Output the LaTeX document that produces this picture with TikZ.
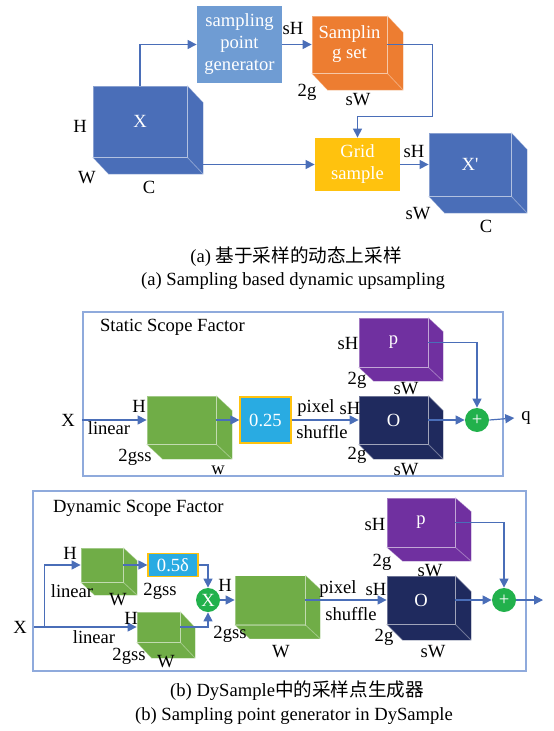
\documentclass[tikz,border=0pt]{standalone}
\usepackage{fontspec}
\setmainfont{Liberation Serif}
\newfontfamily\cjk{Noto Sans CJK SC}
\usetikzlibrary{arrows.meta, calc}
\definecolor{xblue}{HTML}{4A6EB8}
\definecolor{genblue}{HTML}{6F9CD3}
\definecolor{setorange}{HTML}{ED7D31}
\definecolor{gridgold}{HTML}{FFC20E}
\definecolor{leafgreen}{HTML}{70AD47}
\definecolor{sky}{HTML}{29ABE2}
\definecolor{deepnavy}{HTML}{1F2A5E}
\definecolor{plum}{HTML}{7030A0}
\definecolor{dotgreen}{HTML}{22B14C}
\colorlet{linkblue}{xblue}
\definecolor{frameblue}{HTML}{8FAADC}

% side and bottom faces behind a front face node
\newcommand{\extrude}[4]{%
  \fill[#2] (#1.north east) -- ($(#1.north east)+(#3,#4)$) -- ($(#1.south east)+(#3,#4)$)
    -- ($(#1.south west)+(#3,#4)$) -- (#1.south west) -- (#1.south east) -- cycle;
  \draw[edge] (#1.north east) -- ($(#1.north east)+(#3,#4)$) -- ($(#1.south east)+(#3,#4)$)
    -- ($(#1.south west)+(#3,#4)$) -- (#1.south west);
  \draw[edge] (#1.north east) -- (#1.south east) -- (#1.south west);
  \draw[edge] (#1.south east) -- ($(#1.south east)+(#3,#4)$);
}

\begin{document}
\begin{tikzpicture}[x=0.5pt, y=-0.5pt, >={Triangle[length=4.5pt,width=4.5pt]},
    font=\fontsize{9.3}{11}\selectfont,
    edge/.style={draw=white, draw opacity=0.35, line width=0.4pt},
    block/.style={fill=#1, text=white, align=center, inner sep=0pt},
    cubeface/.style={block=#1, edge},
    link/.style={draw=linkblue, line width=0.6pt, ->},
    panel/.style={draw=frameblue, line width=0.6pt},
    dot/.style={circle, fill=dotgreen, text=white, minimum size=12pt, inner sep=0pt}]
  \useasboundingbox (0,0) rectangle (553,731);

  % (a) sampling based upsampling
  \node[cubeface=xblue, minimum width=47pt, minimum height=35.5pt] (xin) at (140,121.5) {X};
  \extrude{xin}{xblue}{16}{17}
  \node[block=genblue, minimum width=42.5pt, minimum height=38.5pt] (gen) at (239.5,44.5) {sampling\\point\\generator};
  \node[cubeface=setorange, minimum width=37.5pt, minimum height=28.5pt] (sset) at (349.5,44.5) {Samplin\\[-1pt]g set};
  \extrude{sset}{setorange}{16}{17}
  \node[block=gridgold, minimum width=42.5pt, minimum height=26.5pt] (grid) at (357.5,164.5) {Grid\\sample};
  \node[cubeface=xblue, minimum width=41pt, minimum height=31.5pt] (xout) at (470,164.5) {X\textquotesingle};
  \extrude{xout}{xblue}{16}{17}

  \draw[link] (xin.north) |- (gen.west);
  \draw[link] (gen.east) -- (sset.west);
  \draw[link] (sset.east) -- ++(45,0) |- ($(grid.north)+(0,-21)$) -- (grid.north);
  \path (xin.east) ++(16,0) coordinate (xinside);
  \draw[link] (xinside |- grid.west) -- (grid.west);
  \draw[link] (grid.east) -- (xout.west);

  \node (aH) at (80,126) {H};
  \node (aW) at (87,178) {W};
  \node (aC) at (149,187) {C};
  \node (asH) at (293,29) {sH};
  \node (a2g) at (307,92) {2g};
  \node (asW) at (358,100) {sW};
  \node (aoH) at (414,152) {sH};
  \node (aoW) at (418,214) {sW};
  \node (aoC) at (486,226) {C};

  \node (capa) at (296,257) {(a) {\cjk 基于采样的动态上采样}};
  \node (capaen) at (293,281) {(a) Sampling based dynamic upsampling};

  % (b) static scope factor
  \draw[panel] (83,312) rectangle (503,476);
  \node[anchor=west] (stitle) at (93,327) {Static Scope Factor};
  \node (xs) at (68,420) {X};
  \node[cubeface=leafgreen, minimum width=34.5pt, minimum height=24pt] (ws) at (181.5,420) {};
  \extrude{ws}{leafgreen}{16}{15}
  \node[block=sky, draw=gridgold, line width=0.6pt, minimum width=25.5pt, minimum height=23pt] (quarter) at (265.5,420) {0.25};
  \node[cubeface=deepnavy, minimum width=34.5pt, minimum height=24pt] (os) at (393.5,420) {O};
  \extrude{os}{deepnavy}{15}{15}
  \node[cubeface=plum, minimum width=34.5pt, minimum height=24.5pt] (ps) at (393.5,342.5) {p};
  \extrude{ps}{plum}{15}{14}
  \node[dot] (adds) at (477,420) {+};
  \node (qs) at (526,418) {q};

  \draw[link] (xs.east) -- (ws.west);
  \draw[link] (ws.east) -- (quarter.west);
  \draw[link] (quarter.east) -- (os.west);
  \draw[link] (os.east) -- (adds.west);
  \draw[link] (ps.east) -| (adds.north);
  \draw[link] (adds.east) -- (qs.west);

  \node (sH1) at (139,406) {H};
  \node (slin) at (109,428) {linear};
  \node (sgss) at (135,457) {2gss};
  \node (sw) at (218,470) {w};
  \node (spix) at (316,408) {pixel};
  \node (sshuf) at (322,432) {shuffle};
  \node (soH) at (350,408) {sH};
  \node (so2g) at (357,455) {2g};
  \node (soW) at (406,470) {sW};
  \node (spH) at (348,343) {sH};
  \node (sp2g) at (357,380) {2g};
  \node (spW) at (406,389) {sW};

  % (b) dynamic scope factor
  \draw[panel] (33,491) rectangle (526,671);
  \node[anchor=west] (dtitle) at (46,508) {Dynamic Scope Factor};
  \node (xd) at (20,627) {X};
  \node[cubeface=leafgreen, minimum width=21pt, minimum height=17pt] (lina) at (102,565) {};
  \extrude{lina}{leafgreen}{14}{13}
  \node[cubeface=leafgreen, minimum width=21.5pt, minimum height=15pt] (linb) at (158.5,627) {};
  \extrude{linb}{leafgreen}{15}{16}
  \node[block=sky, draw=gridgold, line width=0.6pt, minimum width=25pt, minimum height=11.5pt] (half) at (173,565) {0.5δ};
  \node[dot] (mul) at (208,600) {X};
  \node[cubeface=leafgreen, minimum width=35pt, minimum height=24.5pt] (big) at (270,600) {};
  \extrude{big}{leafgreen}{15}{14}
  \node[cubeface=deepnavy, minimum width=34pt, minimum height=24pt] (od) at (421,600) {O};
  \extrude{od}{deepnavy}{16}{16}
  \node[cubeface=plum, minimum width=34pt, minimum height=24.5pt] (pd) at (421,522.5) {p};
  \extrude{pd}{plum}{16}{14}
  \node[dot] (addd) at (504,600) {+};
  \coordinate (outd) at (543,600);

  \path (xd.east) ++(11,0) coordinate (split);
  \draw[link] (xd.east) -- (linb.west);
  \draw[link] (split) |- (lina.west);
  \draw[link] (lina.east) -- (half.west);
  \draw[link] (half.east) -| (mul.north);
  \draw[link] (linb.east) -| (mul.south);
  \draw[link] (mul.east) -- (big.west);
  \draw[link] (big.east) -- (od.west);
  \draw[link] (od.east) -- (addd.west);
  \draw[link] (pd.east) -| (addd.north);
  \draw[link] (addd.east) -- (outd);

  \node (daH) at (70,553) {H};
  \node (dalin) at (72,591) {linear};
  \node (daW) at (118,600) {W};
  \node (dagss) at (160,591) {2gss};
  \node (dbH) at (131,618) {H};
  \node (dblin) at (94,637) {linear};
  \node (dbgss) at (129,656) {2gss};
  \node (dbW) at (166,662) {W};
  \node (dcH) at (225,585) {H};
  \node (dcgss) at (230,634) {2gss};
  \node (dcW) at (281,652) {W};
  \node (dpix) at (338,589) {pixel};
  \node (dshuf) at (351,614) {shuffle};
  \node (doH) at (376,589) {sH};
  \node (do2g) at (384,637) {2g};
  \node (doW) at (433,652) {sW};
  \node (dpH) at (375,524) {sH};
  \node (dp2g) at (382,562) {2g};
  \node (dpW) at (430,571) {sW};

  \node (capb) at (297,691) {(b) DySample{\cjk 中的采样点生成器}};
  \node (capben) at (294,716) {(b) Sampling point generator in DySample};
\end{tikzpicture}
\end{document}
